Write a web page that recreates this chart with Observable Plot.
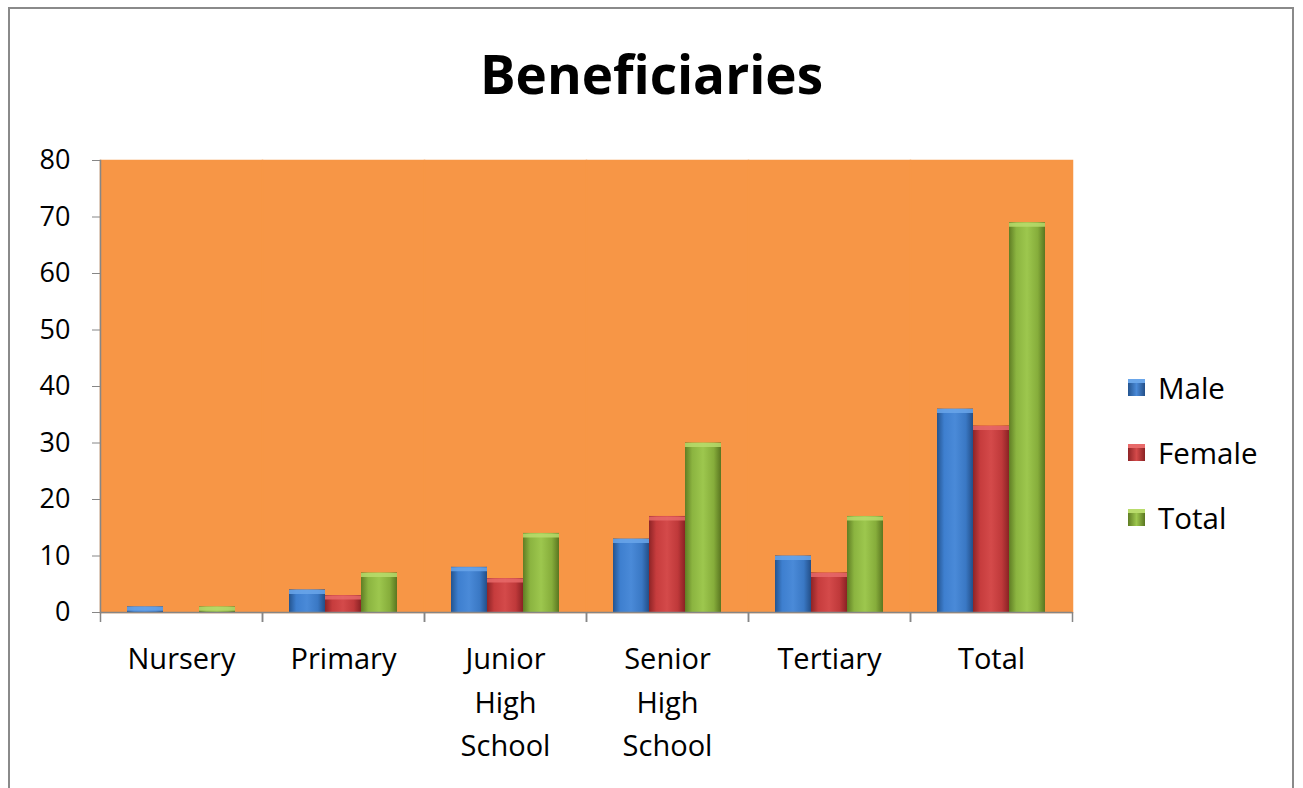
<!DOCTYPE html>
<html>
<head>
<meta charset="utf-8">
<script src="https://cdn.jsdelivr.net/npm/d3@7"></script>
<script src="https://cdn.jsdelivr.net/npm/@observablehq/plot@0.6"></script>
<style>
  html, body { margin: 0; padding: 0; background: #fff; }
  #page { position: relative; width: 1303px; height: 788px; overflow: hidden; font-family: "Open Sans", Lato, sans-serif; }
  #border { position: absolute; left: 8px; top: 7px; width: 1286px; height: 800px; border: 2px solid #8a8a8a; box-sizing: border-box; }
  #title { position: absolute; left: 0; width: 1303px; top: 37px; text-align: center; font-size: 53px; font-weight: bold; color: #000; }
  #chart { position: absolute; left: 0; top: 140px; }
  #legend { position: absolute; left: 1128px; top: 355px; font-size: 29.5px; color: #000; }
  .item { display: flex; align-items: center; height: 66px; margin-top: -1px; }
  .sw { width: 17px; height: 17px; margin-right: 13px; box-sizing: border-box; }
</style>
</head>
<body>
<div id="page">
  <div id="border"></div>
  <div id="title">Beneficiaries</div>
  <div id="chart"></div>
  <div id="legend"></div>
</div>
<script>
const categories = ["Nursery", "Primary", "Junior High School", "Senior High School", "Tertiary", "Total"];
const categoryLabels = ["Nursery", "Primary", "Junior\nHigh\nSchool", "Senior\nHigh\nSchool", "Tertiary", "Total"];
const series = ["Male", "Female", "Total"];
const male = [1, 4, 8, 13, 10, 36];
const female = [0, 3, 6, 17, 7, 33];
const total = [1, 7, 14, 30, 17, 69];
const yTicks = [0, 10, 20, 30, 40, 50, 60, 70, 80];

const seriesValues = { Male: male, Female: female, Total: total };
const gradIds = { Male: "gMale", Female: "gFemale", Total: "gTotal" };
const gradStops = {
  Male: ["#24548f", "#3e7fcf", "#4a8ad8", "#3a78c4", "#234f88"],
  Female: ["#8e2426", "#c63c3d", "#d44a4a", "#bf393a", "#8a2224"],
  Total: ["#5f7d24", "#8bb440", "#9dc74e", "#86ad3b", "#5a7620"]
};
const topColors = { Male: "#6aa6ea", Female: "#e86a6a", Total: "#b9dc6c" };

const data = [];
categories.forEach((c, i) => {
  series.forEach(s => data.push({ category: c, series: s, value: seriesValues[s][i] }));
});
const facetEdge = categories.map(c => ({ category: c }));

const plot = Plot.plot({
  width: 1100,
  height: 648,
  marginLeft: 100,
  marginRight: 28,
  marginTop: 20,
  marginBottom: 176,
  style: { fontFamily: "'Open Sans', Lato, sans-serif", fontSize: "25px", color: "#000", background: "transparent", overflow: "visible" },
  fx: { domain: categories, padding: 0, label: null },
  x: { domain: series, paddingInner: 0, paddingOuter: 0.75, axis: null },
  y: { domain: [0, 80], label: null },
  marks: [
    Plot.frame({ fill: "#f79646", stroke: "#f79646", strokeWidth: 1.5 }),
    Plot.barY(data, { fx: "category", x: "series", y: "value", fill: d => `url(#${gradIds[d.series]})` }),
    Plot.tickY(data.filter(d => d.value > 0), { fx: "category", x: "series", y: "value", dy: 2, stroke: d => topColors[d.series], strokeWidth: 4, strokeOpacity: 0.85 }),
    Plot.ruleY([0], { stroke: "#868686", strokeWidth: 1.5 }),
    // category boundary ticks below the axis
    Plot.ruleX(facetEdge, { fx: "category", x: () => "Male", dx: -45, y1: 0, y2: 0, insetBottom: -10, stroke: "#868686", strokeWidth: 1.5 }),
    Plot.ruleX(facetEdge, { fx: "category", x: () => "Total", dx: 45, y1: 0, y2: 0, insetBottom: -10, stroke: "#868686", strokeWidth: 1.5 }),
    Plot.frame({ anchor: "left", stroke: "#868686", strokeWidth: 1.5, facetAnchor: "left" }),
    Plot.axisY({ ticks: yTicks, tickSize: 8, tickPadding: 22, stroke: "#868686", fontSize: 27, label: null }),
    Plot.axisFx({ anchor: "bottom", tickSize: 0, tickPadding: 26, fontSize: 29, lineHeight: 1.5, label: null,
      tickFormat: c => categoryLabels[categories.indexOf(c)] })
  ]
});

// gradient defs for 3D-like bars
const ns = "http://www.w3.org/2000/svg";
const defs = document.createElementNS(ns, "defs");
series.forEach(s => {
  const g = document.createElementNS(ns, "linearGradient");
  g.setAttribute("id", gradIds[s]);
  g.setAttribute("x1", "0"); g.setAttribute("x2", "1"); g.setAttribute("y1", "0"); g.setAttribute("y2", "0");
  const offs = [0, 0.2, 0.5, 0.8, 1];
  gradStops[s].forEach((col, k) => {
    const st = document.createElementNS(ns, "stop");
    st.setAttribute("offset", offs[k]);
    st.setAttribute("stop-color", col);
    g.appendChild(st);
  });
  defs.appendChild(g);
});
plot.insertBefore(defs, plot.firstChild);
document.getElementById("chart").appendChild(plot);

// legend
const legend = document.getElementById("legend");
series.forEach(s => {
  const item = document.createElement("div");
  item.className = "item";
  const sw = document.createElement("div");
  sw.className = "sw";
  const st = gradStops[s];
  sw.style.background = `linear-gradient(to bottom, ${topColors[s]} 0 25%, transparent 25%), linear-gradient(to right, ${st[0]}, ${st[2]} 50%, ${st[4]})`;
  const t = document.createElement("span");
  t.textContent = s;
  item.appendChild(sw);
  item.appendChild(t);
  legend.appendChild(item);
});
</script>
</body>
</html>
